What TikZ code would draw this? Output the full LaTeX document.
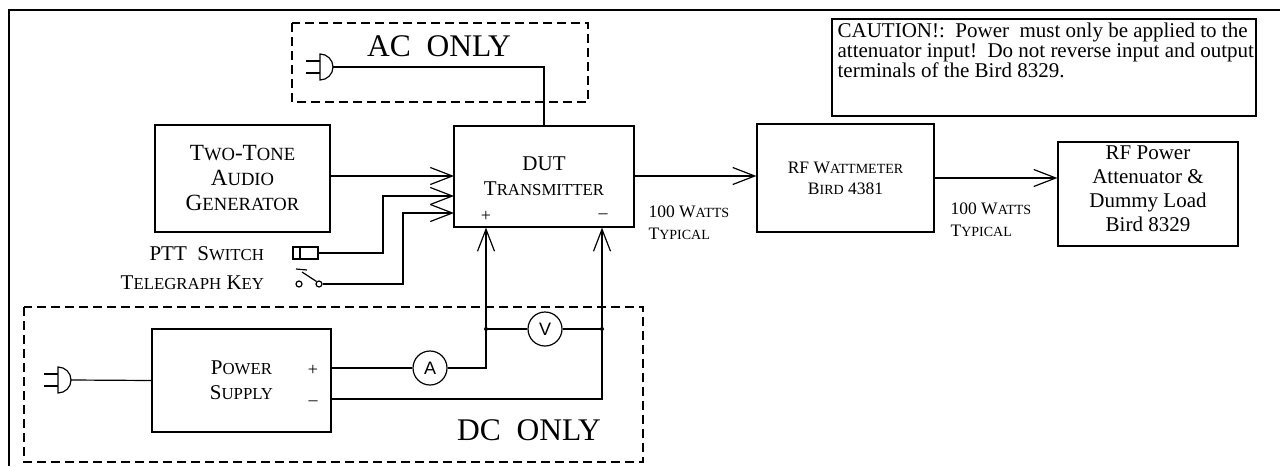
\documentclass[tikz,border=0pt]{standalone}
\usepackage{fontspec}
\setmainfont{Liberation Serif}
\setsansfont{Liberation Sans}
\usetikzlibrary{arrows.meta}
\newcommand\lowcap[1]{{\fontsize{16.8pt}{25pt}\selectfont #1}}
\newcommand\lowcapbig[1]{{\fontsize{18.6pt}{25pt}\selectfont #1}}
\newcommand\lowcapsm[1]{{\fontsize{14pt}{21pt}\selectfont #1}}
\tikzset{mainsplug/.pic={
    \draw (-13,-13) arc[start angle=-90,end angle=90,radius=13] -- cycle;
    \draw (-27,-6) -- (-13,-6) (-27,6) -- (-13,6);
  }}

\begin{document}
\begin{tikzpicture}[x=1pt,y=-1pt,line width=1.2pt,
    box/.style={draw,align=center,inner sep=0pt,font=\fontsize{21pt}{25pt}\selectfont},
    zone/.style={line width=1.6pt,dash pattern=on 9pt off 5pt},
    meter/.style={draw,circle,minimum size=34pt,inner sep=0pt,font=\sffamily\fontsize{18pt}{18pt}\selectfont},
    barb/.style={-{Straight Barb[length=22pt,width=17pt]}},
    term/.style={inner sep=0pt,font=\fontsize{18pt}{18pt}\selectfont},
    note/.style={inner sep=0pt,align=left,font=\fontsize{17.5pt}{22pt}\selectfont}]
  \useasboundingbox (0,0) rectangle (1280,466);
  \draw[line width=2.4pt] (1280,10) -- (9,10) -- (9,466);
  % AC part
  \draw[zone] (292,23) rectangle (588,102);
  \node[font=\fontsize{31.5pt}{31.5pt}\selectfont] (aclbl) at (439,46) {AC\ \ ONLY};
  \pic at (333,67) {mainsplug};
  \coordinate (acplug) at (333,67);
  % blocks
  \node[box,minimum width=175pt,minimum height=107pt,font=\fontsize{23.2pt}{25pt}\selectfont] (two) at (242.5,178.5)
    {T\lowcapbig{WO}-T\lowcapbig{ONE}\\A\lowcapbig{UDIO}\\G\lowcapbig{ENERATOR}};
  \node[box,minimum width=180pt,minimum height=101pt] (dut) at (544,176.5)
    {DUT\\T\lowcap{RANSMITTER}};
  \node[term] (dutp) at (486,216) {+};
  \node[term] (dutm) at (603,216) {\textendash};
  \node[box,minimum width=177pt,minimum height=108pt,font=\fontsize{17.5pt}{21pt}\selectfont] (watt) at (845.5,178)
    {RF W\lowcapsm{ATTMETER}\\B\lowcapsm{IRD} 4381};
  \node[box,minimum width=180pt,minimum height=104pt,
    label={[align=center,font=\fontsize{21pt}{24pt}\selectfont,yshift=5pt]center:RF Power\\Attenuator \&\\Dummy Load\\Bird 8329}]
    (load) at (1148,194) {};
  \node[draw,minimum width=424pt,minimum height=97pt] (caution) at (1044,67.5) {};
  \node[anchor=north west,inner sep=0pt,align=left,font=\fontsize{21pt}{20pt}\selectfont] (cautiontxt) at (837,22)
    {CAUTION!:\ \ Power\ \ must only be applied to the\\attenuator input!\ \ Do not reverse input and output\\terminals of the Bird 8329.};
  \node[note,anchor=north west] (watts1) at (648,205) {100 W\lowcapsm{ATTS}\\T\lowcapsm{YPICAL}};
  \node[note,anchor=north west] (watts2) at (950,202) {100 W\lowcapsm{ATTS}\\T\lowcapsm{YPICAL}};
  % inputs
  \coordinate (in1) at (454,176);
  \coordinate (in2) at (454,196);
  \coordinate (in3) at (454,213);
  \coordinate (b2) at (383,196);
  \coordinate (b3) at (403,213);
  \node[draw,minimum width=25pt,minimum height=12pt,inner sep=0pt] (ptt) at (305.5,253) {};
  \draw (300,247) -- (300,259);
  \node[draw,circle,minimum size=6pt,inner sep=0pt] (keyl) at (299,284) {};
  \node[draw,circle,minimum size=6pt,inner sep=0pt] (keyr) at (319,284) {};
  \draw (296,269) -- (307,270);
  \draw (302,272) -- (keyr.north west);
  \node[anchor=east,font=\fontsize{21pt}{25pt}\selectfont] (pttlbl) at (268,254) {PTT\ \ S\lowcap{WITCH}};
  \node[anchor=east,font=\fontsize{21pt}{25pt}\selectfont] (keylbl) at (268,283) {T\lowcap{ELEGRAPH} K\lowcap{EY}};
  \draw[barb] (two.east |- in1) -- (in1);
  \draw[barb] (ptt) -| (b2) -- (in2);
  \draw[barb] (keyr) -| (b3) -- (in3);
  \draw (acplug) -| (dut.north);
  % RF path
  \draw[barb] (dut.east |- in1) -- (watt.west |- in1);
  \draw[barb] (watt.east) -- (load.west |- watt.east);
  % DC part
  \draw[zone] (24,307) rectangle (643,462);
  \node[font=\fontsize{31.5pt}{31.5pt}\selectfont] (dclbl) at (529,430) {DC\ \ ONLY};
  \node[box,minimum width=179pt,minimum height=103pt] (ps) at (241.5,380.5)
    {P\lowcap{OWER}\\S\lowcap{UPPLY}};
  \node[term] (psp) at (313,370) {+};
  \node[term] (psm) at (313,403) {\textendash};
  \pic at (71,380) {mainsplug};
  \coordinate (psplug) at (71,380);
  \draw (psplug) -- (ps.west);
  \node[meter] (amp) at (430,368) {A};
  \node[meter] (volt) at (545,329) {V};
  \coordinate (psplus) at (331,368);
  \coordinate (psneg) at (331,399);
  \coordinate (jp) at (486,329);
  \coordinate (jm) at (602,329);
  \draw (psplus) -- (amp);
  \draw[barb] (amp) -| (jp |- dut.south);
  \draw (jp) -- (volt) -- (jm);
  \draw[barb] (psneg) -| (jm |- dut.south);
  \fill (jp) circle (2pt) (jm) circle (2pt);
\end{tikzpicture}
\end{document}
